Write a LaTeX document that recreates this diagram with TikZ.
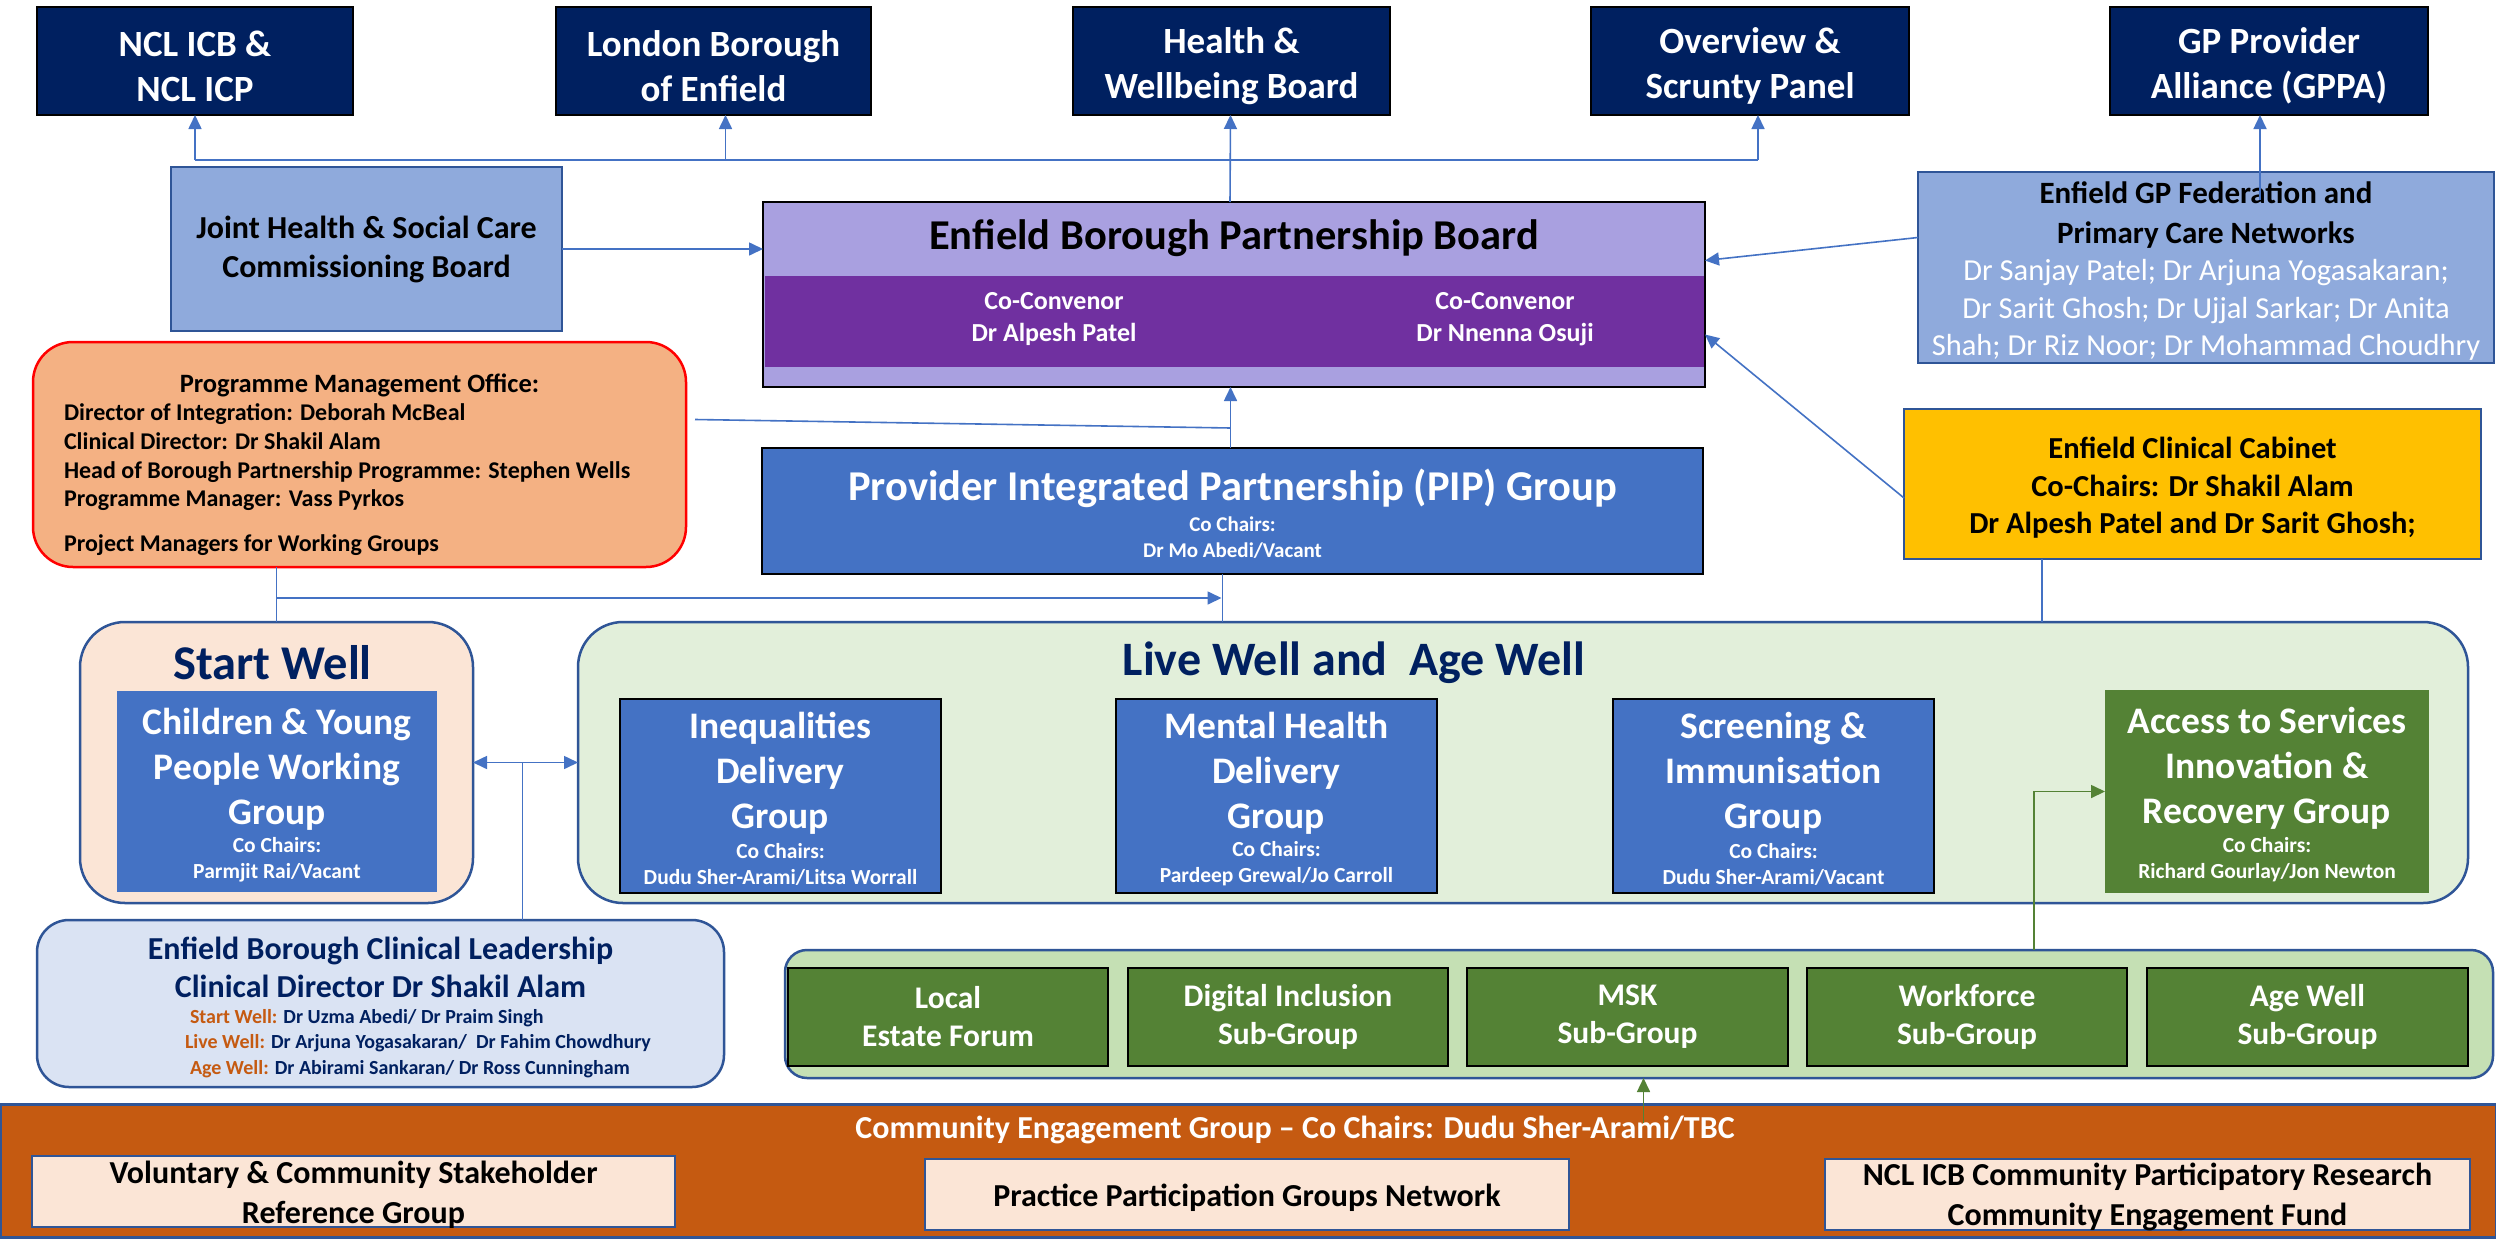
\documentclass[tikz,border=0pt]{standalone}
\usepackage{fontspec}
\setmainfont{Carlito}
\usetikzlibrary{arrows.meta,calc}

\definecolor{cNavy}{HTML}{002060}
\definecolor{cLink}{HTML}{4472C4}
\definecolor{cEdge}{HTML}{2F5597}
\definecolor{cJoint}{HTML}{8FAADC}
\definecolor{cLilac}{HTML}{A9A0E0}
\definecolor{cPurple}{HTML}{7030A0}
\definecolor{cPmo}{HTML}{F4B183}
\definecolor{cBlue}{HTML}{4472C4}
\definecolor{cGold}{HTML}{FFC000}
\definecolor{cPeach}{HTML}{FBE5D6}
\definecolor{cMint}{HTML}{E2EFDA}
\definecolor{cGreen}{HTML}{548235}
\definecolor{cSage}{HTML}{C5E0B4}
\definecolor{cSky}{HTML}{DAE3F3}
\definecolor{cRust}{HTML}{C55A11}

\newcommand\setfs[2]{\fontsize{#1}{#2}\selectfont}

\tikzset{
  every node/.style={inner sep=0pt, outer sep=0pt},
  frame/.style={anchor=north west},
  topbox/.style={frame, fill=cNavy, draw=black, line width=2.5pt,
    minimum height=108},
  toptext/.style={text=white, font=\bfseries\setfs{37}{45}, align=center},
  lightbox/.style={frame, fill=cJoint, draw=cEdge, line width=2.5pt,
    font=\bfseries\setfs{32}{39}, align=center},
  groupbox/.style={frame, fill=cBlue, draw=black, line width=2.5pt},
  greenbox/.style={frame, fill=cGreen},
  subbox/.style={frame, fill=cGreen, draw=black, line width=2pt, text=white,
    font=\bfseries\setfs{31.5}{38}, align=center},
  peachbox/.style={frame, fill=cPeach, draw=cEdge, line width=2pt,
    minimum height=71},
  peachtext/.style={font=\bfseries\setfs{32}{40}, align=center},
  bigw/.style={text=white, font=\bfseries\setfs{37.5}{45}, align=center},
  smallw/.style={text=white, font=\bfseries\setfs{21.5}{26}, align=center},
  conn/.style={draw=cLink, line width=1.6pt},
  arr/.style={conn, -{Triangle[width=13pt,length=14pt]}},
  garr/.style={draw=cGreen, line width=1.6pt, -{Triangle[width=13pt,length=14pt]}},
}

\begin{document}
\begin{tikzpicture}[x=1pt,y=-1pt]
\useasboundingbox (0,0) rectangle (2496,1239);
\fill[white] (0,0) rectangle (2496,1239);

% ---------- top row of governing bodies ----------
\node[topbox, minimum width=316] (ncl) at (37,7) {};
\node[toptext] (nclT) at ($(ncl.center)+(0,5)$) {NCL ICB \&\\NCL ICP};
\node[topbox, minimum width=315] (london) at (556,7) {};
\node[toptext] (londonT) at ($(london.center)+(0,5)$) {London Borough\\of Enfield};
\node[topbox, minimum width=317] (health) at (1073,7) {};
\node[toptext] (healthT) at ($(health.center)+(0,5)$) {Health \&\\Wellbeing Board};
\node[topbox, minimum width=318] (overview) at (1591,7) {};
\node[toptext] (overviewT) at ($(overview.center)+(0,5)$) {Overview \&\\Scrunty Panel};
\node[topbox, minimum width=318] (gpprov) at (2110,7) {};
\node[toptext] (gpprovT) at ($(gpprov.center)+(0,5)$) {GP Provider\\Alliance (GPPA)};

% ---------- partnership board ----------
\node[lightbox, minimum width=391, minimum height=164] (joint) at (171,167) {Joint Health \& Social Care\\Commissioning Board};

\node[frame, fill=cLilac, draw=black, line width=2.5pt, minimum width=942, minimum height=185] (board) at (763,202) {};
\fill[cPurple] ($(board.north west)+(1.5,74)$) rectangle ($(board.south east)+(-1.5,-20)$);
\node[font=\bfseries\setfs{42.5}{48}] (boardT) at ($(board.north)+(0,36)$) {Enfield Borough Partnership Board};
\node[font=\bfseries\setfs{26}{32}, text=white, align=center] (conv1) at ($(board.north west)+(291,117)$) {Co-Convenor\\Dr Alpesh Patel};
\node[font=\bfseries\setfs{26}{32}, text=white, align=center] (conv2) at ($(board.north west)+(742,117)$) {Co-Convenor\\Dr Nnenna Osuji};

\node[frame, fill=cJoint, draw=cEdge, line width=2.5pt, minimum width=576, minimum height=191] (gpfed) at (1918,172) {};
\node[font=\bfseries\setfs{31}{40}, align=center] (gpfedT) at ($(gpfed.north)+(0,43)$) {Enfield GP Federation and\\Primary Care Networks};
\node[font=\setfs{30.5}{37.5}, text=white, align=center] (gpfedN) at ($(gpfed.north)+(0,138)$) {Dr Sanjay Patel; Dr Arjuna Yogasakaran;\\Dr Sarit Ghosh; Dr Ujjal Sarkar; Dr Anita\\Shah; Dr Riz Noor; Dr Mohammad Choudhry};

% ---------- programme office, PIP and cabinet ----------
\node[frame, fill=cPmo, draw=red, line width=2.5pt, rounded corners=40pt, minimum width=653, minimum height=225] (pmo) at (33,342) {};
\node[font=\bfseries\setfs{26.5}{28}] (pmoT) at ($(pmo.north)+(0,43)$) {Programme Management Office:};
\node[font=\bfseries\setfs{24}{28.7}, align=left, anchor=north west] (pmoB) at (64,404) {Director of Integration: Deborah McBeal\\Clinical Director: Dr Shakil Alam\\Head of Borough Partnership Programme: Stephen Wells\\Programme Manager: Vass Pyrkos\\[16pt]Project Managers for Working Groups};

\node[groupbox, minimum width=941, minimum height=126] (pip) at (762,448) {};
\node[bigw, font=\bfseries\setfs{42.5}{45}] (pipT) at ($(pip.north)+(0,40)$) {Provider Integrated Partnership (PIP) Group};
\node[smallw, font=\bfseries\setfs{21}{26}] (pipS) at ($(pip.north)+(0,90)$) {Co Chairs:\\Dr Mo Abedi/Vacant};

\node[frame, fill=cGold, draw=cEdge, line width=2.5pt, minimum width=577, minimum height=150] (cabinet) at (1904,409) {};
\node[font=\bfseries\setfs{30.5}{37.5}, align=center] (cabinetT) at ($(cabinet.center)+(0,4)$) {Enfield Clinical Cabinet\\Co-Chairs: Dr Shakil Alam\\Dr Alpesh Patel and Dr Sarit Ghosh;};

% ---------- working groups ----------
\node[frame, fill=cPeach, draw=cEdge, line width=2.5pt, rounded corners=45pt, minimum width=393, minimum height=281] (startwell) at (80,622) {};
\node[font=\bfseries\setfs{48.5}{52}, text=cNavy] (startwellT) at ($(startwell.north)+(-4,41)$) {Start Well};
\node[greenbox, fill=cBlue, minimum width=320, minimum height=201] (children) at (117,691) {};
\node[bigw] (childrenT) at ($(children.north)+(0,78)$) {Children \& Young\\People Working\\Group};
\node[smallw] (childrenS) at ($(children.north)+(0,169)$) {Co Chairs:\\Parmjit Rai/Vacant};

\node[frame, fill=cMint, draw=cEdge, line width=2.5pt, rounded corners=45pt, minimum width=1890, minimum height=281] (livewell) at (578,622) {};
\node[font=\bfseries\setfs{48}{52}, text=cNavy] (livewellT) at (1354,663) {Live Well and\ \ Age Well};

\node[groupbox, minimum width=321, minimum height=194] (ineq) at (620,699) {};
\node[bigw] (ineqT) at ($(ineq.north)+(0,74)$) {Inequalities\\Delivery\\Group};
\node[smallw] (ineqS) at ($(ineq.north)+(0,165)$) {Co Chairs:\\Dudu Sher-Arami/Litsa Worrall};

\node[groupbox, minimum width=321, minimum height=194] (mental) at (1116,699) {};
\node[bigw] (mentalT) at ($(mental.north)+(0,74)$) {Mental Health\\Delivery\\Group};
\node[smallw] (mentalS) at ($(mental.north)+(0,165)$) {Co Chairs:\\Pardeep Grewal/Jo Carroll};

\node[groupbox, minimum width=321, minimum height=194] (screen) at (1613,699) {};
\node[bigw] (screenT) at ($(screen.north)+(0,74)$) {Screening \&\\Immunisation\\Group};
\node[smallw] (screenS) at ($(screen.north)+(0,165)$) {Co Chairs:\\Dudu Sher-Arami/Vacant};

\node[greenbox, minimum width=324, minimum height=203] (access) at (2105,690) {};
\node[bigw] (accessT) at ($(access.north)+(0,78)$) {Access to Services\\Innovation \&\\Recovery Group};
\node[smallw] (accessS) at ($(access.north)+(0,170)$) {Co Chairs:\\Richard Gourlay/Jon Newton};

% ---------- clinical leadership ----------
\node[frame, fill=cSky, draw=cEdge, line width=2.5pt, rounded corners=32pt, minimum width=687, minimum height=167] (leader) at (37,920) {};
\node[font=\bfseries\setfs{32}{38}, text=cNavy, align=center] (leaderT) at ($(leader.north)+(0,47)$) {Enfield Borough Clinical Leadership\\Clinical Director Dr Shakil Alam};
\node[font=\bfseries\setfs{20}{25.5}, text=cNavy, align=left, anchor=north west] (leaderB) at (190,1009) {\textcolor{cRust}{Start Well:} Dr Uzma Abedi/ Dr Praim Singh\\\hspace*{-5pt}\textcolor{cRust}{Live Well:} Dr Arjuna Yogasakaran/\ \ Dr Fahim Chowdhury\\\textcolor{cRust}{Age Well:} Dr Abirami Sankaran/ Dr Ross Cunningham};

% ---------- sub-groups ----------
\node[frame, fill=cSage, draw=cEdge, line width=2.5pt, rounded corners=22pt, minimum width=1708, minimum height=128] (sgc) at (785,950) {};
\node[subbox, minimum width=320, minimum height=98] (local) at (788,968) {Local\\Estate Forum};
\node[subbox, minimum width=320, minimum height=98] (digital) at (1128,968) {Digital Inclusion\\Sub-Group};
\node[subbox, minimum width=321, minimum height=98] (msk) at (1467,968) {MSK\\Sub-Group};
\node[subbox, minimum width=320, minimum height=98] (workforce) at (1807,968) {Workforce\\Sub-Group};
\node[subbox, minimum width=321, minimum height=98] (agewell) at (2147,968) {Age Well\\Sub-Group};

% ---------- community engagement ----------
\node[frame, fill=cRust, draw=cEdge, line width=3pt, minimum width=2496, minimum height=133] (community) at (0,1104) {};
\node[font=\bfseries\setfs{32}{34}, text=white] (communityT) at (1295,1130) {Community Engagement Group – Co Chairs: Dudu Sher-Arami/TBC};
\node[peachbox, minimum width=643] (vol) at (32,1156) {};
\node[peachtext] (volT) at ($(vol.center)+(0,3)$) {Voluntary \& Community Stakeholder\\Reference Group};
\node[peachbox, minimum width=644] (ppg) at (925,1159) {};
\node[peachtext] (ppgT) at ($(ppg.center)+(0,3)$) {Practice Participation Groups Network};
\node[peachbox, minimum width=645] (cpr) at (1825,1159) {};
\node[peachtext] (cprT) at ($(cpr.center)+(0,2)$) {NCL ICB Community Participatory Research\\Community Engagement Fund};

% ---------- connectors ----------
\coordinate (bus) at (0,160);
\draw[conn] (ncl.south |- bus) -- (overview.south |- bus);
\draw[arr] (ncl.south |- bus) -- (ncl.south);
\draw[arr] ($(london.south |- bus)+(12,0)$) -- ($(london.south)+(12,0)$);
\draw[arr] ($(overview.south |- bus)+(8,0)$) -- ($(overview.south)+(8,0)$);
\draw[conn] ($(overview.south |- bus)+(8,0)$) -- (overview.south |- bus);
\draw[arr] ($(board.north)+(-4,0)$) -- ($(health.south)+(-1,0)$);
\draw[arr] ($(gpprov.south |- gpfed.north)+(-9,28)$) -- ($(gpprov.south)+(-9,0)$);

\draw[arr] (joint.east) -- (board.west |- joint.east);
\draw[arr] ($(gpfed.west)+(0,-30)$) -- ($(board.east)+(0,-34)$);
\draw[arr] ($(cabinet.west)+(0,14)$) -- ($(board.east)+(0,40)$);
\draw[conn] ($(pmo.east)+(9,-35)$) -- ($(pip.north)+(-2,-20)$);
\draw[arr] ($(pip.north)+(-2,0)$) -- ($(pip.north |- board.south)+(-2,0)$);

\coordinate (mid) at (0,598);
\draw[conn] (startwell.north |- pmo.south) -- (startwell.north);
\draw[arr] (startwell.north |- mid) -- ($(pip.south |- mid)+(-11,0)$);
\draw[conn] ($(pip.south)+(-10,0)$) -- ($(pip.south |- livewell.north)+(-10,0)$);
\draw[conn] ($(cabinet.south west)+(138,0)$) -- ($(cabinet.south west |- livewell.north)+(138,0)$);

\draw[conn, {Triangle[width=13pt,length=14pt]}-{Triangle[width=13pt,length=14pt]}] (startwell.east) -- (livewell.west);
\coordinate (split) at ($(startwell.east)!0.47!(livewell.west)$);
\draw[conn] (split) -- (split |- leader.north);

\coordinate (gtap) at ($(access.west)+(-71,0)$);
\draw[garr] (gtap |- sgc.north) |- (access.west);
\draw[garr] ($(msk.south |- community.north)+(16,19)$) -- ($(msk.south |- sgc.south)+(16,0)$);
\end{tikzpicture}
\end{document}
